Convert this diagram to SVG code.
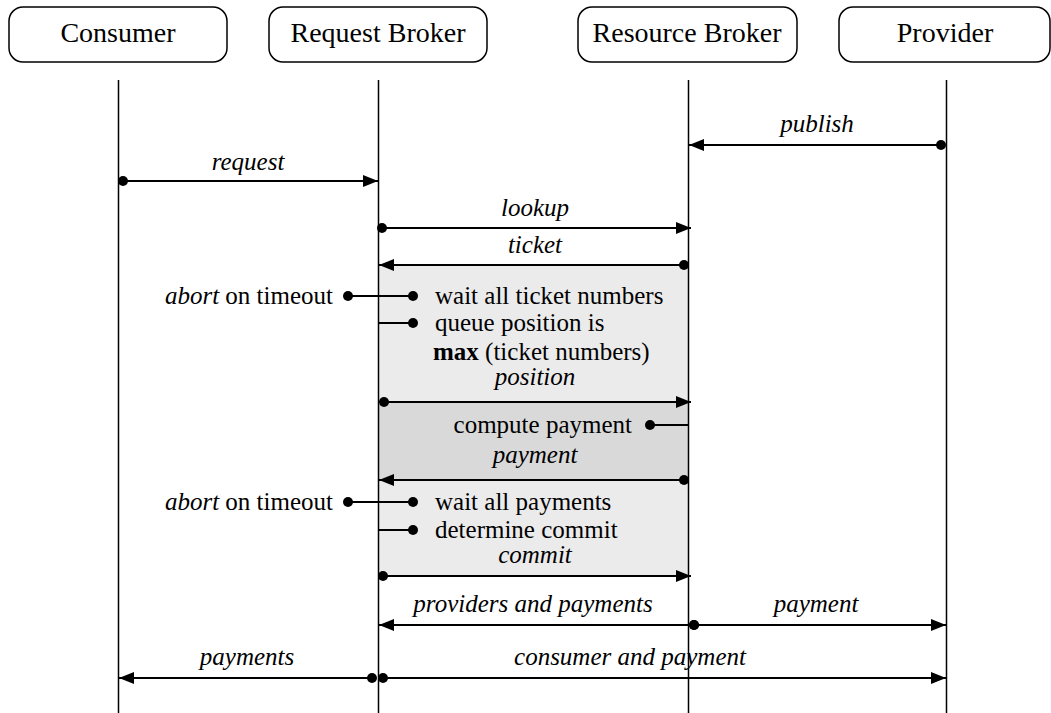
<svg xmlns="http://www.w3.org/2000/svg" width="1051" height="713" viewBox="0 0 1051 713">
<style>
.box{fill:#fff;stroke:#000;stroke-width:1.5}
text{font-family:'Liberation Serif','Tinos','DejaVu Serif',serif;fill:#000}
.hd{font-size:28px;text-anchor:middle}
.t{font-size:25px}
.lb{font-size:25px;font-style:italic;text-anchor:middle}
.life{stroke:#000;stroke-width:1.5;fill:none}
.msg{stroke:#000;stroke-width:1.8;fill:none}
.arr{marker-end:url(#ah)}
.dot{marker-start:url(#dt)}
.dotE{marker-end:url(#dt)}
</style>
<defs>
<marker id="ah" markerUnits="userSpaceOnUse" markerWidth="16" markerHeight="12" refX="15" refY="6" orient="auto">
<path d="M0,0 L15,6 L0,12 Z" fill="#000"/>
</marker>
<marker id="dt" markerUnits="userSpaceOnUse" markerWidth="12" markerHeight="12" refX="6" refY="6" orient="auto">
<circle cx="6" cy="6" r="5" fill="#000"/>
</marker>
</defs>
<rect x="0" y="0" width="1051" height="713" fill="#fff"/>
<g id="regions">
<rect x="379" y="265" width="309" height="137" fill="#ebebeb"/>
<rect x="379" y="402" width="309" height="78" fill="#d9d9d9"/>
<rect x="379" y="480" width="309" height="96" fill="#ebebeb"/>
</g>
<g id="consumer">
<rect class="box" x="9" y="7" width="218" height="55" rx="14"/>
<text class="hd" x="118" y="42" font-family="Liberation Serif">Consumer</text>
<line class="life" x1="118.5" y1="80" x2="118.5" y2="713"/>
</g>
<g id="request-broker">
<rect class="box" x="269" y="7" width="218" height="55" rx="14"/>
<text class="hd" x="378" y="42">Request Broker</text>
<line class="life" x1="378.5" y1="80" x2="378.5" y2="713"/>
</g>
<g id="resource-broker">
<rect class="box" x="578" y="7" width="219" height="55" rx="14"/>
<text class="hd" x="687" y="42">Resource Broker</text>
<line class="life" x1="688.5" y1="80" x2="688.5" y2="713"/>
</g>
<g id="provider">
<rect class="box" x="839" y="7" width="211" height="55" rx="14"/>
<text class="hd" x="945" y="42">Provider</text>
<line class="life" x1="946.5" y1="80" x2="946.5" y2="713"/>
</g>
<g id="connectors">
<line class="msg dot arr" x1="941" y1="145" x2="689" y2="145"/>
<line class="msg dot arr" x1="123" y1="181" x2="378" y2="181"/>
<line class="msg dot arr" x1="382" y1="228" x2="691" y2="228"/>
<line class="msg dot arr" x1="684" y1="265" x2="379" y2="265"/>
<line class="msg dot dotE" x1="348" y1="296" x2="413" y2="296"/>
<line class="msg dotE" x1="379" y1="323" x2="413" y2="323"/>
<line class="msg dot arr" x1="384" y1="402" x2="691" y2="402"/>
<line class="msg dot" x1="650" y1="425" x2="688" y2="425"/>
<line class="msg dot arr" x1="684" y1="480" x2="379" y2="480"/>
<line class="msg dot dotE" x1="348" y1="502" x2="413" y2="502"/>
<line class="msg dotE" x1="379" y1="530" x2="413" y2="530"/>
<line class="msg dot arr" x1="383" y1="576" x2="691" y2="576"/>
<line class="msg dot arr" x1="694" y1="625" x2="379" y2="625"/>
<line class="msg dot arr" x1="694" y1="625" x2="946" y2="625"/>
<line class="msg dot arr" x1="372" y1="678" x2="119" y2="678"/>
<line class="msg dot arr" x1="383" y1="678" x2="946" y2="678"/>
</g>
<g id="labels">
<text class="lb" x="817" y="132">publish</text>
<text class="lb" x="248" y="170">request</text>
<text class="lb" x="535" y="216">lookup</text>
<text class="lb" x="535" y="253">ticket</text>
<text class="t" x="333" y="304" text-anchor="end"><tspan font-style="italic">abort</tspan> on timeout</text>
<text class="t" x="435" y="304">wait all ticket numbers</text>
<text class="t" x="435" y="331">queue position is</text>
<text class="t" x="433" y="360"><tspan font-weight="bold">max</tspan> (ticket numbers)</text>
<text class="lb" x="535" y="385">position</text>
<text class="t" x="632" y="433" text-anchor="end">compute payment</text>
<text class="lb" x="535" y="463">payment</text>
<text class="t" x="333" y="510" text-anchor="end"><tspan font-style="italic">abort</tspan> on timeout</text>
<text class="t" x="435" y="510">wait all payments</text>
<text class="t" x="435" y="538">determine commit</text>
<text class="lb" x="535" y="563">commit</text>
<text class="lb" x="533" y="612">providers and payments</text>
<text class="lb" x="816" y="612">payment</text>
<text class="lb" x="247" y="665">payments</text>
<text class="lb" x="630" y="665">consumer and payment</text>
</g>
</svg>
